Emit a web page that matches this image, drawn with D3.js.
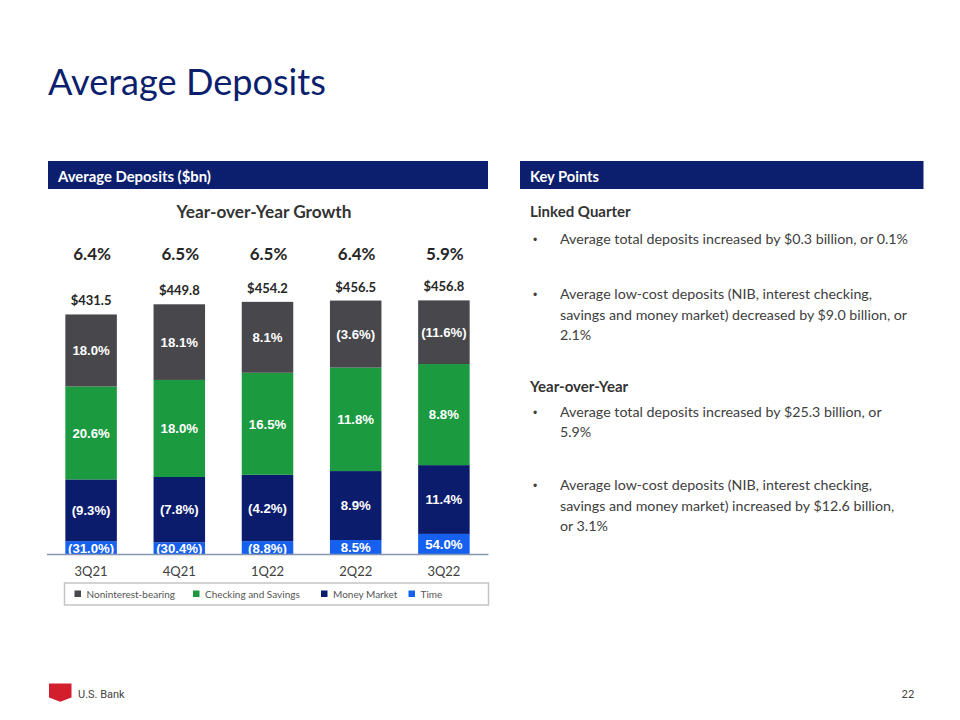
<!DOCTYPE html>
<html>
<head>
<meta charset="utf-8">
<script src="https://cdn.jsdelivr.net/npm/d3@7/dist/d3.min.js"></script>
<style>
  html, body { margin: 0; padding: 0; background: #fff; }
  svg { display: block; }
</style>
</head>
<body>
<svg id="chart" width="960" height="720"></svg>
<script>
// ---------------- DATA ----------------
const quarters = ["3Q21", "4Q21", "1Q22", "2Q22", "3Q22"];
const seriesNames = ["Noninterest-bearing", "Checking and Savings", "Money Market", "Time"];
const nonInterestBearing = [129.5, 136.0, 127.5, 120.5, 114.4];
const checkingSavings    = [167.0, 174.5, 183.5, 186.0, 181.7];
const moneyMarket        = [111.0, 117.3, 119.2, 124.0, 123.7];
const timeDeposits       = [24.0, 22.0, 24.0, 26.0, 37.0];
const totals             = [431.5, 449.8, 454.2, 456.5, 456.8];
const totalGrowth        = [6.4, 6.5, 6.5, 6.4, 5.9];
const growthNIB          = [18.0, 18.1, 8.1, -3.6, -11.6];
const growthCS           = [20.6, 18.0, 16.5, 11.8, 8.8];
const growthMM           = [-9.3, -7.8, -4.2, 8.9, 11.4];
const growthTime         = [-31.0, -30.4, -8.8, 8.5, 54.0];

const keyPoints = [
  { head: "Linked Quarter", y: 212, bullets: [
    { y: 239, lines: ["Average total deposits increased by $0.3 billion, or 0.1%"] },
    { y: 294, lines: ["Average low-cost deposits (NIB, interest checking,",
                      "savings and money market) decreased by $9.0 billion, or",
                      "2.1%"] }
  ]},
  { head: "Year-over-Year", y: 386.5, bullets: [
    { y: 411.5, lines: ["Average total deposits increased by $25.3 billion, or", "5.9%"] },
    { y: 485, lines: ["Average low-cost deposits (NIB, interest checking,",
                      "savings and money market) increased by $12.6 billion,",
                      "or 3.1%"] }
  ]}
];

// ---------------- STYLE ----------------
const colors = ["#47474c", "#1b9a3f", "#0b1c6d", "#1660f0"];
const navy = "#0c1f6e";
const calibri = "Lato, 'Open Sans', sans-serif";
const arial = "'Liberation Sans', Arial, sans-serif";

const svg = d3.select("#chart");

function fitWidth(sel, target) {
  const node = sel.node();
  const fs = parseFloat(sel.attr("font-size"));
  const w = node.getComputedTextLength();
  if (w > 0) sel.attr("font-size", (fs * target / w).toFixed(2));
  return sel;
}

// Title
fitWidth(svg.append("text").attr("x", 48).attr("y", 95)
  .attr("font-family", calibri).attr("font-size", 38).attr("fill", navy)
  .text("Average Deposits"), 278);

// Header bars
svg.append("rect").attr("x", 48).attr("y", 161).attr("width", 440).attr("height", 28).attr("fill", navy);
fitWidth(svg.append("text").attr("x", 58).attr("y", 181.5)
  .attr("font-family", calibri).attr("font-weight", "bold").attr("font-size", 15).attr("fill", "#fff")
  .text("Average Deposits ($bn)"), 153);
svg.append("rect").attr("x", 520).attr("y", 161).attr("width", 403.5).attr("height", 28).attr("fill", navy);
fitWidth(svg.append("text").attr("x", 530).attr("y", 181.5)
  .attr("font-family", calibri).attr("font-weight", "bold").attr("font-size", 15).attr("fill", "#fff")
  .text("Key Points"), 69);

// Chart subtitle
fitWidth(svg.append("text").attr("x", 264).attr("y", 217.5).attr("text-anchor", "middle")
  .attr("font-family", calibri).attr("font-weight", "bold").attr("font-size", 17).attr("fill", "#333")
  .text("Year-over-Year Growth"), 175);

// ---------------- CHART ----------------
const x = d3.scaleBand().domain(quarters).range([47, 488]).paddingInner(0.416).paddingOuter(0.208);
const y = d3.scaleLinear().domain([0, 456.8]).range([554.5, 300.4]);

const table = quarters.map((q, i) => ({
  q,
  "Noninterest-bearing": nonInterestBearing[i],
  "Checking and Savings": checkingSavings[i],
  "Money Market": moneyMarket[i],
  "Time": timeDeposits[i]
}));
const growth = {
  "Noninterest-bearing": growthNIB,
  "Checking and Savings": growthCS,
  "Money Market": growthMM,
  "Time": growthTime
};
// Stack from bottom: Time, Money Market, Checking, NIB
const stackOrder = ["Time", "Money Market", "Checking and Savings", "Noninterest-bearing"];
const stacked = d3.stack().keys(stackOrder)(table);

const fmtPct = v => v < 0 ? "(" + Math.abs(v).toFixed(1) + "%)" : v.toFixed(1) + "%";

const g = svg.append("g");
stacked.forEach(layer => {
  const key = layer.key;
  const col = colors[seriesNames.indexOf(key)];
  const lg = g.append("g");
  lg.selectAll("rect").data(layer).join("rect")
    .attr("x", d => x(d.data.q))
    .attr("y", d => y(d[1]))
    .attr("width", x.bandwidth())
    .attr("height", d => y(d[0]) - y(d[1]))
    .attr("fill", col);
  lg.selectAll("text").data(layer).join("text")
    .attr("x", d => x(d.data.q) + x.bandwidth() / 2)
    .attr("y", d => (y(d[0]) + y(d[1])) / 2 + 4.8)
    .attr("text-anchor", "middle")
    .attr("font-family", arial).attr("font-weight", "bold").attr("font-size", 13.2)
    .attr("fill", "#fff")
    .text((d, i) => fmtPct(growth[key][i]));
});

// Axis
const axis = svg.append("g").attr("transform", "translate(0,554.5)")
  .call(d3.axisBottom(x).tickSize(0).tickPadding(12));
axis.select(".domain").attr("stroke", "#8796b0").attr("stroke-width", 1.5).attr("d", "M47,0H488.5");
axis.selectAll("text").attr("font-family", calibri).attr("font-size", 13).attr("fill", "#404040");

// Totals
svg.append("g").selectAll("text").data(quarters).join("text")
  .attr("x", q => x(q) + x.bandwidth() / 2)
  .attr("y", (q, i) => y(totals[i]) - 9)
  .attr("text-anchor", "middle")
  .attr("font-family", calibri).attr("font-weight", "bold").attr("font-size", 13).attr("fill", "#262626")
  .text((q, i) => "$" + totals[i].toFixed(1));

// YoY total growth row
svg.append("g").selectAll("text").data(quarters).join("text")
  .attr("x", q => x(q) + x.bandwidth() / 2 + 1)
  .attr("y", 259.5)
  .attr("text-anchor", "middle")
  .attr("font-family", calibri).attr("font-weight", "bold").attr("font-size", 17).attr("fill", "#262626")
  .text((q, i) => totalGrowth[i].toFixed(1) + "%");

// Legend
svg.append("rect").attr("x", 64.5).attr("y", 583).attr("width", 424).attr("height", 22)
  .attr("fill", "#fff").attr("stroke", "#c4c4c4").attr("stroke-width", 1.5);
const legendX = [74.5, 193, 321, 408.5];
const lg = svg.append("g").selectAll("g").data(seriesNames).join("g")
  .attr("transform", (d, i) => `translate(${legendX[i]},594)`);
lg.append("rect").attr("x", 0).attr("y", -3.5).attr("width", 6.5).attr("height", 6.5)
  .attr("fill", (d, i) => colors[i]);
lg.append("text").attr("x", 12).attr("y", 3.5)
  .attr("font-family", calibri).attr("font-size", 10).attr("fill", "#555")
  .text(d => d);

// ---------------- KEY POINTS ----------------
const kp = svg.append("g");
keyPoints.forEach(sec => {
  kp.append("text").attr("x", 530).attr("y", sec.y + 5)
    .attr("font-family", calibri).attr("font-weight", "bold").attr("font-size", 15).attr("fill", "#333")
    .text(sec.head);
  sec.bullets.forEach(b => {
    kp.append("text").attr("x", 533).attr("y", b.y + 5)
      .attr("font-family", arial).attr("font-size", 12).attr("fill", "#404040").text("•");
    b.lines.forEach((ln, i) => {
      kp.append("text").attr("class", "kpline").attr("x", 560).attr("y", b.y + 5 + i * 20.5)
        .attr("font-family", calibri).attr("font-size", 15).attr("fill", "#404040")
        .text(ln);
    });
  });
});
// calibrate body font size using the first line width (348px in the reference)
(function () {
  const first = kp.select(".kpline");
  const w = first.node().getComputedTextLength();
  const fs = 15 * 348 / w;
  kp.selectAll(".kpline").attr("font-size", fs.toFixed(2));
})();

// ---------------- FOOTER ----------------
svg.append("path").attr("d", "M49,683.5H71.5V697.5L60.25,701.8L49,697.5Z").attr("fill", "#d31f2d");
svg.append("text").attr("x", 78).attr("y", 698).attr("font-family", "Roboto, sans-serif")
  .attr("font-size", 11).attr("fill", "#444").text("U.S. Bank");
svg.append("text").attr("x", 908).attr("y", 698).attr("text-anchor", "middle")
  .attr("font-family", calibri).attr("font-size", 11).attr("fill", "#444").text("22");
</script>
</body>
</html>
